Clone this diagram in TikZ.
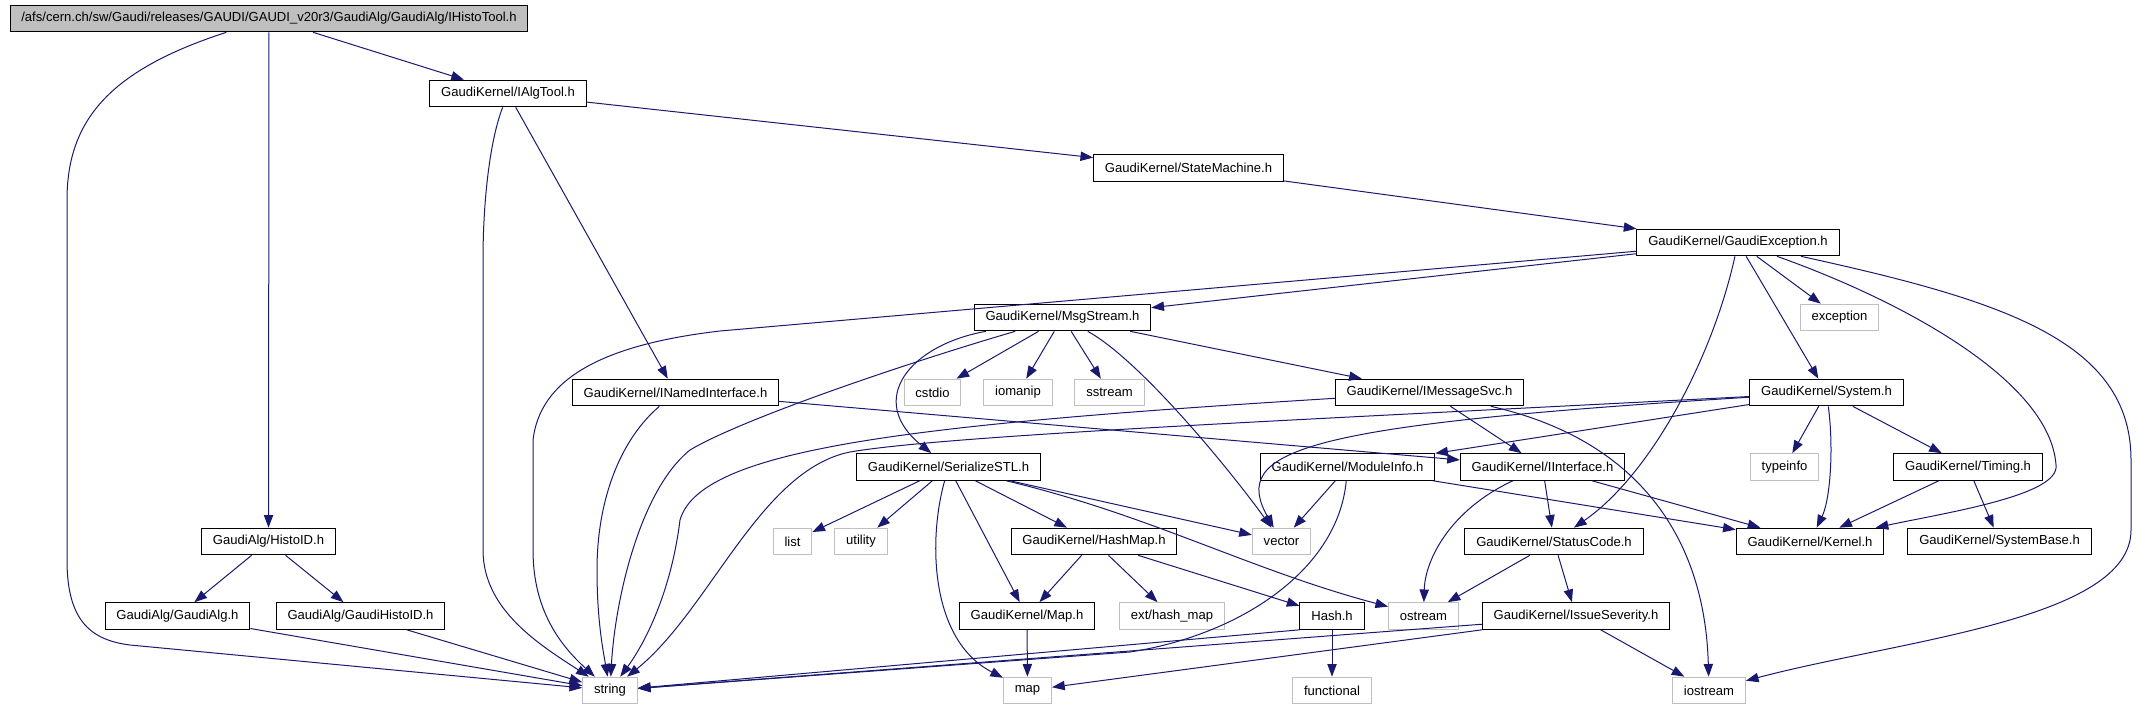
\documentclass[tikz,border=0pt]{standalone}
\usepackage{fontspec}
\setmainfont{Liberation Sans}
\usetikzlibrary{arrows.meta}
\definecolor{edgeblue}{HTML}{191970}
\definecolor{boxgray}{HTML}{BFBFBF}

\begin{document}
\begin{tikzpicture}[x=0.75pt,y=-0.75pt]
\tikzstyle{inc}=[draw=black,line width=0.75pt,font=\fontsize{9.8}{11}\selectfont,inner xsep=8.5pt,inner ysep=0pt,minimum height=20pt]
\tikzstyle{sys}=[inc,draw=boxgray]
\tikzstyle{main}=[inc,fill=boxgray]
\tikzstyle{dep}=[draw=edgeblue,line width=0.75pt,-{Triangle[length=9.5pt,width=7pt]}]
\useasboundingbox (0,0) rectangle (2136,709);
\node [main] (histotool) at (269,18.5) {/afs/cern.ch/sw/Gaudi/releases/GAUDI/GAUDI\_v20r3/GaudiAlg/GaudiAlg/IHistoTool.h};
\node [inc] (algtool) at (508,93.5) {GaudiKernel/IAlgTool.h};
\node [inc] (statemach) at (1188.5,168) {GaudiKernel/StateMachine.h};
\node [inc] (gexc) at (1738,242.5) {GaudiKernel/GaudiException.h};
\node [inc] (msgstream) at (1062.5,317.5) {GaudiKernel/MsgStream.h};
\node [sys] (exception) at (1839.5,317.5) {exception};
\node [inc] (namedif) at (675.5,392.5) {GaudiKernel/INamedInterface.h};
\node [sys] (cstdio) at (932.5,392.5) {cstdio};
\node [sys] (iomanip) at (1018,392.5) {iomanip};
\node [sys] (sstream) at (1109.5,392.5) {sstream};
\node [inc] (msgsvc) at (1429.5,392.5) {GaudiKernel/IMessageSvc.h};
\node [inc] (system) at (1826.5,392.5) {GaudiKernel/System.h};
\node [inc] (serializestl) at (948.5,467) {GaudiKernel/SerializeSTL.h};
\node [inc] (modinfo) at (1347.5,467) {GaudiKernel/ModuleInfo.h};
\node [inc] (iface) at (1542.5,467) {GaudiKernel/IInterface.h};
\node [sys] (typeinfo) at (1784.5,467) {typeinfo};
\node [inc] (timing) at (1968,467) {GaudiKernel/Timing.h};
\node [inc] (histoid) at (268.5,541.5) {GaudiAlg/HistoID.h};
\node [sys] (list) at (792.5,541.5) {list};
\node [sys] (utility) at (861,541.5) {utility};
\node [inc] (hashmap) at (1094,541.5) {GaudiKernel/HashMap.h};
\node [sys] (vector) at (1281.5,541.5) {vector};
\node [inc] (statuscode) at (1554,541.5) {GaudiKernel/StatusCode.h};
\node [inc] (kernel) at (1810,541.5) {GaudiKernel/Kernel.h};
\node [inc] (sysbase) at (1999.5,541.5) {GaudiKernel/SystemBase.h};
\node [inc] (gaudialg) at (177.5,616) {GaudiAlg/GaudiAlg.h};
\node [inc] (histoidh) at (360.5,616) {GaudiAlg/GaudiHistoID.h};
\node [inc] (maph) at (1027,616) {GaudiKernel/Map.h};
\node [sys] (hashext) at (1172,616) {ext/hash\_map};
\node [inc] (hash) at (1332,616) {Hash.h};
\node [sys] (ostream) at (1423.5,616) {ostream};
\node [inc] (issuesev) at (1576,616) {GaudiKernel/IssueSeverity.h};
\node [sys] (string) at (610,690.5) {string};
\node [sys] (stdmap) at (1027.5,690.5) {map};
\node [sys] (functional) at (1332,690.5) {functional};
\node [sys] (iostream) at (1709,690.5) {iostream};
% IHistoTool.h
\draw [dep] (histotool) .. controls (110,70) and (67,120) .. (67,200) -- (67,560) .. controls (67,620) and (90,640) .. (130,645) -- (string);
\draw [dep] (histotool) -- (histoid);
\draw [dep] (histotool) -- (algtool);
% IAlgTool.h
\draw [dep] (algtool) .. controls (490,140) and (483,200) .. (483,260) -- (483,550) .. controls (483,610) and (540,645) .. (string);
\draw [dep] (algtool) -- (namedif);
\draw [dep] (algtool) -- (statemach);
\draw [dep] (statemach) -- (gexc);
% GaudiException.h
\draw [dep] (gexc) -- (720,331) .. controls (600,345) and (540,380) .. (533,440) -- (533,550) .. controls (533,610) and (560,645) .. (string);
\draw [dep] (gexc) -- (msgstream);
\draw [dep] (gexc) -- (exception);
\draw [dep] (gexc) -- (system);
\draw [dep] (gexc) .. controls (1712,360) and (1650,475) .. (statuscode);
\draw [dep] (gexc) .. controls (1900,300) and (2050,380) .. (2056,465) .. controls (2060,495) and (1950,512) .. (kernel);
\draw [dep] (gexc) .. controls (2000,300) and (2131,340) .. (2131,460) -- (2131,530) .. controls (2131,620) and (1900,640) .. (iostream);
% MsgStream.h
\draw [dep] (msgstream) .. controls (900,365) and (740,420) .. (690,450) .. controls (640,490) and (615,600) .. (string);
\draw [dep] (msgstream) .. controls (910,345) and (865,400) .. (serializestl);
\draw [dep] (msgstream) -- (cstdio);
\draw [dep] (msgstream) -- (iomanip);
\draw [dep] (msgstream) -- (sstream);
\draw [dep] (msgstream) .. controls (1140,360) and (1230,470) .. (vector);
\draw [dep] (msgstream) -- (msgsvc);
% INamedInterface.h
\draw [dep] (namedif) .. controls (620,440) and (597,500) .. (597,570) .. controls (597,620) and (603,650) .. (string);
\draw [dep] (namedif) -- (iface);
% IMessageSvc.h
\draw [dep] (msgsvc) .. controls (900,425) and (700,450) .. (680,520) .. controls (670,600) and (640,650) .. (string);
\draw [dep] (msgsvc) -- (iface);
\draw [dep] (msgsvc) .. controls (1640,440) and (1705,540) .. (iostream);
% System.h
\draw [dep] (system) .. controls (1300,420) and (950,435) .. (850,452) .. controls (760,470) and (710,610) .. (string);
\draw [dep] (system) .. controls (1300,425) and (1230,450) .. (vector);
\draw [dep] (system) -- (modinfo);
\draw [dep] (system) -- (typeinfo);
\draw [dep] (system) .. controls (1834,450) and (1830,500) .. (kernel);
\draw [dep] (system) -- (timing);
% SerializeSTL.h
\draw [dep] (serializestl) -- (list);
\draw [dep] (serializestl) -- (utility);
\draw [dep] (serializestl) .. controls (928,540) and (930,640) .. (stdmap);
\draw [dep] (serializestl) -- (maph);
\draw [dep] (serializestl) -- (hashmap);
\draw [dep] (serializestl) -- (vector);
\draw [dep] (serializestl) .. controls (1150,515) and (1250,570) .. (ostream);
% ModuleInfo.h
\draw [dep] (modinfo) -- (vector);
\draw [dep] (modinfo) .. controls (1338,570) and (1240,635) .. (1130,652) -- (string);
\draw [dep] (modinfo) -- (kernel);
% IInterface.h
\draw [dep] (iface) -- (statuscode);
\draw [dep] (iface) -- (kernel);
\draw [dep] (iface) .. controls (1450,510) and (1425,560) .. (ostream);
% StatusCode.h, IssueSeverity.h
\draw [dep] (statuscode) -- (ostream);
\draw [dep] (statuscode) -- (issuesev);
\draw [dep] (issuesev.185) -- (string);
\draw [dep] (issuesev.south west) -- (stdmap);
\draw [dep] (issuesev) -- (iostream);
% Timing.h
\draw [dep] (timing) -- (kernel);
\draw [dep] (timing) -- (sysbase);
% HashMap.h, Map.h, Hash.h
\draw [dep] (hashmap) -- (maph);
\draw [dep] (hashmap) -- (hashext);
\draw [dep] (hashmap) -- (hash);
\draw [dep] (maph) -- (stdmap);
\draw [dep] (hash.south west) -- (string);
\draw [dep] (hash) -- (functional);
% HistoID.h
\draw [dep] (histoid) -- (gaudialg);
\draw [dep] (histoid) -- (histoidh);
\draw [dep] (gaudialg) -- (string);
\draw [dep] (histoidh) -- (string);
\end{tikzpicture}
\end{document}
